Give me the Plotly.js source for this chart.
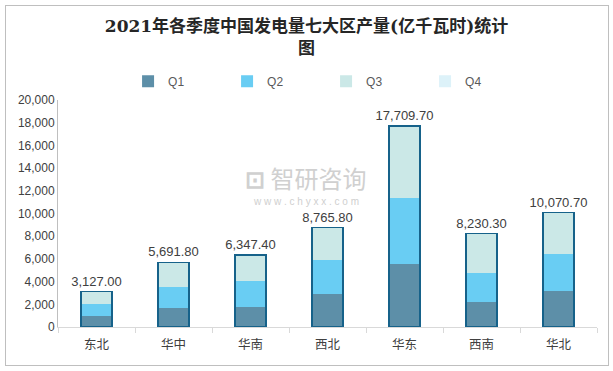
<!DOCTYPE html>
<html><head><meta charset="utf-8">
<script src="https://cdn.plot.ly/plotly-3.0.1.min.js"></script>
<style>
html,body{margin:0;padding:0;background:#fff;}
#wrap{position:relative;width:613px;height:371px;}
#chart{position:absolute;left:0;top:0;width:613px;height:371px;}
#frame{position:absolute;left:5px;top:5px;width:602px;height:359px;border:1px solid #bfbfbf;pointer-events:none;}
</style></head>
<body><div id="wrap"><div id="chart"></div><div id="frame"></div></div>
<script>
const regions = ['东北','华中','华南','西北','华东','西南','华北'];
const q1 = [960, 1680, 1760, 2920, 5520, 2220, 3190];
const q2 = [1100, 1870, 2310, 2960, 5860, 2580, 3280];
const q3 = [1067, 2141.8, 2277.4, 2885.8, 6329.7, 3430.3, 3600.7];
const q4 = [0, 0, 0, 0, 0, 0, 0];
const totals = [3127.00, 5691.80, 6347.40, 8765.80, 17709.70, 8230.30, 10070.70];
const yTicks = [0,2000,4000,6000,8000,10000,12000,14000,16000,18000,20000];

const seg = (name, vals, color) => ({
  type:'bar', name:name, x:regions, y:vals, width:0.4,
  marker:{color:color, line:{color:color, width:0}},
  hoverinfo:'skip'
});
const traces = [
  seg('Q1', q1, '#5d8fa8'),
  seg('Q2', q2, '#69cdf3'),
  seg('Q3', q3, '#cbe8e7'),
  seg('Q4', q4, '#ddf2f9'),
  {type:'bar', x:regions, y:totals, xaxis:'x2', width:0.4, showlegend:false,
   marker:{color:'rgba(0,0,0,0)', line:{color:'#16628a', width:1.5}},
   texttemplate:'%{y:,.2f}', textposition:'outside', cliponaxis:false, constraintext:'none',
   textfont:{family:'Liberation Sans, Arial, sans-serif', size:13, color:'#404040'}, hoverinfo:'skip'}
];
const layout = {
  width:613, height:371,
  margin:{l:58, r:16, t:100, b:44},
  paper_bgcolor:'#fff', plot_bgcolor:'#fff',
  barmode:'stack',
  title:{text:'2021年各季度中国发电量七大区产量(亿千瓦时)统计<br>图', x:0.5, xanchor:'center', y:0.915, yanchor:'top',
    font:{family:'DejaVu Serif, Noto Sans CJK SC, serif', size:17, color:'#262626', weight:'bold'}},
  showlegend:true,
  legend:{orientation:'h', x:0.13, xanchor:'left', y:1.083, yanchor:'middle', entrywidth:54, entrywidthmode:'pixels',
    font:{family:'Liberation Sans, Arial, sans-serif', size:12, color:'#595959'}, traceorder:'normal', itemclick:false},
  xaxis:{type:'category', showline:true, linecolor:'#d9d9d9', linewidth:1, ticks:'outside', tickson:'boundaries', ticklen:5, tickcolor:'#d9d9d9',
    ticklabelstandoff:6,
    tickfont:{family:'Noto Sans CJK SC, sans-serif', size:12.5, color:'#404040'}, showgrid:false, zeroline:false},
  xaxis2:{type:'category', overlaying:'x', matches:'x', visible:false},
  yaxis:{range:[0,20000], tickvals:yTicks, ticktext:yTicks.map(v=>v.toLocaleString('en-US')), showline:true, linecolor:'#bfbfbf', linewidth:1,
    showgrid:false, zeroline:false, ticks:'', tickfont:{family:'Liberation Sans, Arial, sans-serif', size:12, color:'#404040'}},
  annotations:[
    {xref:'paper', yref:'paper', x:0.46, y:0.66, text:'<b>⊡</b> 智研咨询', showarrow:false,
     font:{family:'Noto Sans CJK SC, sans-serif', size:24, color:'#d0d0d0'}},
    {xref:'paper', yref:'paper', x:0.46, y:0.555, text:'w w w . c h y x x . c o m', showarrow:false,
     font:{family:'Liberation Sans, Arial, sans-serif', size:10, color:'#cfcfcf'}}
  ]
};
Plotly.newPlot('chart', traces, layout, {displayModeBar:false, staticPlot:true});
</script></body></html>
